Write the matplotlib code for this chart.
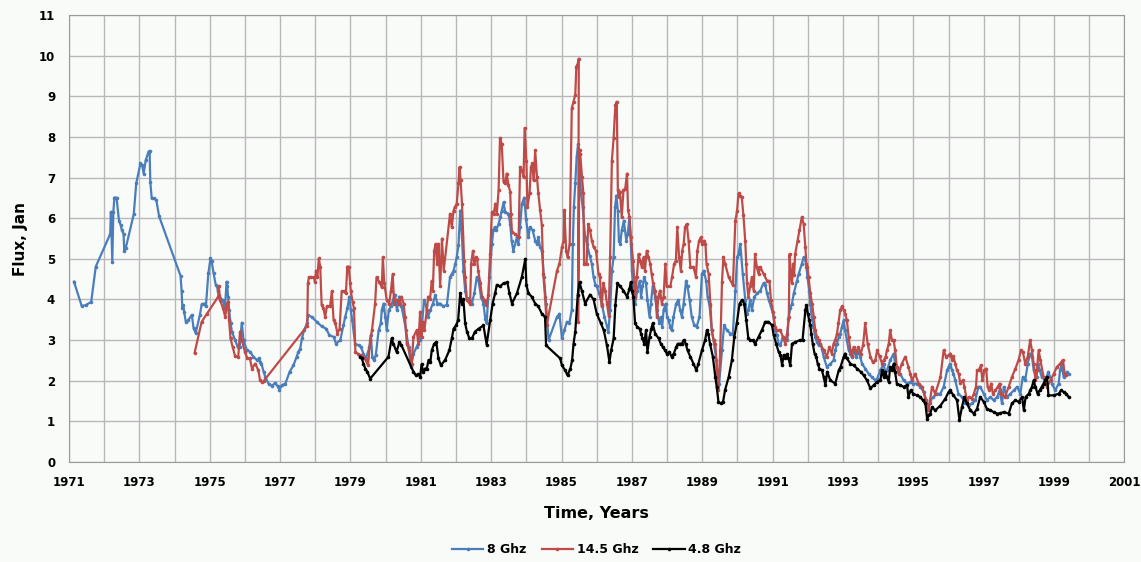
import matplotlib.pyplot as plt
import numpy as np

# (year, flux) pairs
ghz8 = [
    (1971.14, 4.44), (1971.36, 3.84), (1971.47, 3.86), (1971.63, 3.94), (1971.76, 4.81),
    (1972.17, 5.61), (1972.19, 6.16), (1972.23, 4.93), (1972.26, 6.16), (1972.29, 6.51),
    (1972.35, 6.51), (1972.42, 5.94), (1972.47, 5.83), (1972.50, 5.71), (1972.55, 5.61),
    (1972.57, 5.20), (1972.61, 5.26), (1972.84, 6.10), (1972.91, 6.86), (1973.03, 7.35),
    (1973.08, 7.31), (1973.12, 7.10), (1973.18, 7.43), (1973.26, 7.64), (1973.29, 7.66),
    (1973.31, 6.90), (1973.35, 6.49), (1973.41, 6.49), (1973.48, 6.45), (1973.56, 6.05),
    (1974.17, 4.58), (1974.20, 4.21), (1974.22, 3.80), (1974.25, 3.86), (1974.27, 3.70),
    (1974.32, 3.45), (1974.39, 3.49), (1974.49, 3.62), (1974.54, 3.29), (1974.60, 3.17),
    (1974.72, 3.62), (1974.77, 3.88), (1974.85, 3.90), (1974.89, 3.83), (1974.96, 4.64),
    (1975.02, 5.01), (1975.05, 4.96), (1975.11, 4.64), (1975.17, 4.36), (1975.21, 4.32),
    (1975.23, 4.20), (1975.27, 4.12), (1975.34, 3.99), (1975.37, 3.99), (1975.43, 3.78),
    (1975.48, 4.44), (1975.50, 4.32), (1975.52, 4.07), (1975.55, 3.75), (1975.59, 3.42),
    (1975.63, 3.21), (1975.72, 3.00), (1975.79, 2.84), (1975.85, 2.84), (1975.91, 3.43),
    (1975.96, 3.00), (1976.05, 2.76), (1976.15, 2.71), (1976.24, 2.59), (1976.34, 2.51),
    (1976.41, 2.55), (1976.44, 2.46), (1976.47, 2.42), (1976.53, 2.22), (1976.58, 2.09),
    (1976.67, 1.93), (1976.77, 1.87), (1976.86, 1.95), (1976.93, 1.86), (1976.98, 1.78),
    (1977.05, 1.89), (1977.15, 1.93), (1977.27, 2.22), (1977.38, 2.38), (1977.47, 2.59),
    (1977.52, 2.71), (1977.57, 2.79), (1977.62, 3.04), (1977.68, 3.24), (1977.76, 3.41),
    (1977.80, 3.61), (1977.90, 3.57), (1978.04, 3.45), (1978.18, 3.34), (1978.31, 3.28),
    (1978.40, 3.12), (1978.52, 3.08), (1978.59, 2.91), (1978.71, 3.00), (1978.80, 3.36),
    (1978.85, 3.57), (1978.91, 3.78), (1978.97, 4.07), (1979.01, 3.74), (1979.05, 3.49),
    (1979.13, 2.91), (1979.23, 2.87), (1979.30, 2.83), (1979.37, 2.66), (1979.44, 2.55),
    (1979.54, 2.83), (1979.58, 3.12), (1979.62, 2.59), (1979.67, 2.50), (1979.72, 2.63),
    (1979.80, 3.24), (1979.86, 3.41), (1979.89, 3.74), (1979.94, 3.90), (1979.99, 3.57),
    (1980.03, 3.24), (1980.09, 3.74), (1980.15, 3.83), (1980.21, 3.99), (1980.26, 4.12),
    (1980.32, 3.74), (1980.39, 4.07), (1980.45, 3.83), (1980.51, 3.57), (1980.58, 3.24),
    (1980.65, 2.83), (1980.72, 2.34), (1980.79, 2.66), (1980.88, 2.83), (1980.98, 3.00),
    (1981.02, 3.24), (1981.09, 3.99), (1981.14, 3.87), (1981.20, 3.57), (1981.27, 3.74),
    (1981.34, 3.90), (1981.41, 4.10), (1981.47, 3.90), (1981.55, 3.90), (1981.64, 3.83),
    (1981.74, 3.87), (1981.83, 4.55), (1981.88, 4.63), (1981.93, 4.71), (1981.98, 4.88),
    (1982.02, 5.04), (1982.07, 5.33), (1982.12, 6.19), (1982.17, 5.53), (1982.21, 4.71),
    (1982.26, 4.22), (1982.31, 3.99), (1982.38, 4.03), (1982.45, 3.90), (1982.52, 4.15),
    (1982.59, 4.55), (1982.64, 4.46), (1982.71, 4.07), (1982.78, 3.90), (1982.83, 3.53),
    (1982.87, 3.41), (1982.95, 4.55), (1983.02, 5.37), (1983.06, 5.70), (1983.10, 5.78),
    (1983.14, 5.70), (1983.21, 5.86), (1983.26, 6.03), (1983.30, 6.19), (1983.35, 6.39),
    (1983.40, 6.15), (1983.49, 6.11), (1983.54, 5.86), (1983.58, 5.45), (1983.63, 5.20),
    (1983.73, 5.53), (1983.77, 5.37), (1983.82, 5.78), (1983.87, 6.35), (1983.94, 6.51),
    (1983.99, 5.98), (1984.06, 5.53), (1984.10, 5.78), (1984.18, 5.70), (1984.25, 5.45),
    (1984.30, 5.37), (1984.34, 5.53), (1984.39, 5.29), (1984.44, 5.20), (1984.50, 4.55),
    (1984.56, 3.90), (1984.63, 3.00), (1984.87, 3.57), (1984.94, 3.65), (1985.01, 3.04),
    (1985.08, 3.24), (1985.15, 3.45), (1985.22, 3.41), (1985.29, 3.74), (1985.32, 5.37),
    (1985.35, 6.28), (1985.39, 6.86), (1985.43, 7.51), (1985.47, 7.83), (1985.51, 7.59),
    (1985.55, 6.61), (1985.60, 6.28), (1985.67, 5.53), (1985.72, 5.37), (1985.80, 5.08),
    (1985.86, 4.88), (1985.91, 4.55), (1985.96, 4.36), (1986.00, 4.32), (1986.07, 4.15),
    (1986.14, 3.90), (1986.22, 3.57), (1986.33, 3.21), (1986.38, 3.74), (1986.43, 4.71),
    (1986.48, 5.04), (1986.52, 6.28), (1986.56, 6.56), (1986.60, 6.19), (1986.63, 5.45),
    (1986.67, 5.37), (1986.71, 5.70), (1986.77, 5.94), (1986.84, 5.45), (1986.88, 5.61),
    (1986.93, 6.03), (1986.97, 5.37), (1987.00, 4.71), (1987.05, 4.07), (1987.09, 3.90),
    (1987.15, 4.22), (1987.22, 4.46), (1987.26, 4.07), (1987.30, 4.32), (1987.35, 4.55),
    (1987.40, 4.40), (1987.44, 3.99), (1987.50, 3.57), (1987.54, 3.90), (1987.59, 4.32),
    (1987.66, 4.07), (1987.71, 3.74), (1987.78, 3.41), (1987.82, 3.57), (1987.86, 3.33),
    (1987.90, 3.74), (1987.96, 3.90), (1988.00, 3.57), (1988.04, 3.49), (1988.09, 3.33),
    (1988.13, 3.24), (1988.18, 3.57), (1988.26, 3.90), (1988.32, 3.99), (1988.37, 3.74),
    (1988.42, 3.57), (1988.47, 3.90), (1988.54, 4.46), (1988.58, 4.32), (1988.64, 3.99),
    (1988.70, 3.57), (1988.77, 3.37), (1988.84, 3.33), (1988.92, 3.57), (1988.99, 4.63),
    (1989.04, 4.71), (1989.11, 4.46), (1989.15, 4.07), (1989.21, 3.83), (1989.27, 3.24),
    (1989.32, 3.00), (1989.40, 2.50), (1989.43, 1.85), (1989.48, 1.93), (1989.56, 2.75),
    (1989.62, 3.37), (1989.70, 3.24), (1989.80, 3.16), (1989.87, 3.16), (1989.94, 4.22),
    (1989.99, 5.04), (1990.03, 5.12), (1990.08, 5.37), (1990.15, 4.63), (1990.22, 3.99),
    (1990.26, 3.65), (1990.31, 3.74), (1990.36, 3.99), (1990.41, 3.74), (1990.48, 4.07),
    (1990.56, 4.15), (1990.65, 4.22), (1990.74, 4.40), (1990.79, 4.36), (1990.84, 4.15),
    (1990.89, 3.99), (1990.95, 3.83), (1991.03, 3.57), (1991.08, 3.24), (1991.12, 3.12),
    (1991.17, 2.91), (1991.22, 2.87), (1991.29, 3.08), (1991.36, 3.04), (1991.42, 3.00),
    (1991.45, 3.53), (1991.50, 3.78), (1991.55, 3.90), (1991.60, 4.15), (1991.69, 4.46),
    (1991.74, 4.63), (1991.83, 4.88), (1991.88, 5.04), (1991.92, 5.00), (1991.96, 4.80),
    (1991.99, 4.55), (1992.04, 4.22), (1992.07, 3.90), (1992.11, 3.57), (1992.16, 3.33),
    (1992.21, 3.08), (1992.26, 2.95), (1992.31, 2.87), (1992.36, 2.91), (1992.40, 2.79),
    (1992.45, 2.59), (1992.54, 2.34), (1992.64, 2.42), (1992.73, 2.50), (1992.78, 2.75),
    (1992.83, 2.91), (1992.88, 3.08), (1992.92, 3.16), (1992.97, 3.33), (1993.02, 3.49),
    (1993.06, 3.24), (1993.11, 3.00), (1993.16, 2.75), (1993.21, 2.67), (1993.25, 2.59),
    (1993.30, 2.75), (1993.37, 2.59), (1993.44, 2.71), (1993.49, 2.59), (1993.54, 2.42),
    (1993.63, 2.30), (1993.73, 2.17), (1993.82, 2.09), (1993.92, 2.01), (1993.97, 2.05),
    (1994.06, 2.26), (1994.16, 2.42), (1994.20, 2.17), (1994.25, 2.26), (1994.34, 2.50),
    (1994.44, 2.67), (1994.48, 2.42), (1994.53, 2.34), (1994.63, 2.17), (1994.72, 2.01),
    (1994.82, 1.93), (1994.91, 1.97), (1995.00, 1.93), (1995.10, 1.93), (1995.20, 1.85),
    (1995.29, 1.73), (1995.37, 1.52), (1995.43, 1.27), (1995.48, 1.52), (1995.57, 1.60),
    (1995.67, 1.68), (1995.77, 1.68), (1995.86, 1.85), (1995.96, 2.26), (1996.00, 2.34),
    (1996.05, 2.42), (1996.10, 2.26), (1996.14, 2.17), (1996.19, 2.01), (1996.28, 1.68),
    (1996.38, 1.60), (1996.43, 1.52), (1996.48, 1.44), (1996.57, 1.40), (1996.67, 1.44),
    (1996.76, 1.52), (1996.85, 1.85), (1996.90, 1.85), (1997.00, 1.68), (1997.09, 1.52),
    (1997.19, 1.60), (1997.28, 1.52), (1997.38, 1.60), (1997.45, 1.76), (1997.52, 1.44),
    (1997.57, 1.85), (1997.66, 1.60), (1997.76, 1.68), (1997.85, 1.76), (1997.95, 1.85),
    (1998.04, 1.68), (1998.11, 2.09), (1998.18, 2.01), (1998.25, 2.42), (1998.32, 2.67),
    (1998.37, 2.59), (1998.42, 2.26), (1998.50, 2.09), (1998.54, 2.42), (1998.59, 2.26),
    (1998.65, 2.09), (1998.75, 2.01), (1998.84, 2.22), (1998.94, 1.93), (1999.03, 1.76),
    (1999.13, 1.93), (1999.17, 2.26), (1999.22, 2.42), (1999.27, 2.09), (1999.32, 2.17),
    (1999.37, 2.22), (1999.41, 2.17),
]

ghz14 = [
    (1974.57, 2.69), (1974.77, 3.45), (1974.92, 3.65), (1975.24, 4.07), (1975.26, 4.32),
    (1975.29, 3.99), (1975.38, 3.78), (1975.44, 3.57), (1975.49, 3.90), (1975.52, 3.94),
    (1975.55, 3.49), (1975.59, 3.04), (1975.65, 2.84), (1975.72, 2.60), (1975.81, 2.59),
    (1975.86, 3.21), (1975.91, 3.00), (1976.00, 2.71), (1976.07, 2.55), (1976.14, 2.55),
    (1976.20, 2.30), (1976.29, 2.42), (1976.38, 2.26), (1976.43, 2.01), (1976.48, 1.97),
    (1976.53, 1.99), (1977.77, 3.35), (1977.79, 4.40), (1977.82, 4.55), (1977.88, 4.55),
    (1977.96, 4.55), (1977.99, 4.43), (1978.02, 4.71), (1978.06, 4.55), (1978.10, 5.01),
    (1978.14, 4.81), (1978.18, 3.87), (1978.23, 3.78), (1978.28, 3.57), (1978.33, 3.83),
    (1978.42, 3.83), (1978.47, 4.20), (1978.52, 3.49), (1978.57, 3.41), (1978.63, 3.16),
    (1978.69, 3.28), (1978.75, 4.20), (1978.82, 4.20), (1978.87, 4.15), (1978.91, 4.81),
    (1978.95, 4.81), (1978.99, 4.40), (1979.01, 4.20), (1979.06, 3.94), (1979.10, 3.78),
    (1979.14, 2.71), (1979.22, 2.66), (1979.29, 2.63), (1979.37, 2.59), (1979.44, 2.50),
    (1979.50, 2.38), (1979.56, 3.00), (1979.61, 3.24), (1979.70, 3.90), (1979.74, 4.55),
    (1979.82, 4.43), (1979.89, 4.30), (1979.92, 5.04), (1979.96, 4.40), (1980.03, 3.99),
    (1980.10, 3.90), (1980.15, 4.22), (1980.20, 4.63), (1980.24, 3.90), (1980.31, 3.99),
    (1980.39, 3.90), (1980.45, 4.07), (1980.51, 3.90), (1980.55, 3.57), (1980.60, 2.91),
    (1980.67, 2.75), (1980.74, 2.42), (1980.79, 3.08), (1980.88, 3.24), (1980.93, 2.91),
    (1980.98, 3.70), (1981.02, 3.08), (1981.05, 3.45), (1981.10, 3.24), (1981.17, 3.74),
    (1981.21, 4.07), (1981.26, 4.00), (1981.31, 4.46), (1981.34, 4.22), (1981.38, 5.20),
    (1981.42, 5.37), (1981.45, 5.04), (1981.47, 4.88), (1981.50, 5.37), (1981.55, 4.32),
    (1981.60, 5.50), (1981.65, 4.71), (1981.83, 6.11), (1981.88, 5.78), (1981.93, 6.19),
    (1981.97, 6.28), (1982.02, 6.36), (1982.07, 6.86), (1982.10, 7.26), (1982.13, 6.93),
    (1982.17, 6.36), (1982.23, 4.96), (1982.26, 4.55), (1982.31, 3.99), (1982.36, 3.94),
    (1982.40, 3.90), (1982.43, 4.88), (1982.48, 5.20), (1982.52, 4.88), (1982.57, 5.04),
    (1982.60, 5.00), (1982.63, 4.71), (1982.69, 4.40), (1982.74, 4.07), (1982.80, 3.99),
    (1982.86, 3.87), (1982.92, 4.12), (1982.97, 5.12), (1983.02, 6.15), (1983.07, 6.11),
    (1983.12, 6.36), (1983.16, 6.11), (1983.21, 6.69), (1983.25, 7.98), (1983.30, 7.82),
    (1983.35, 6.90), (1983.40, 6.86), (1983.44, 7.10), (1983.49, 6.82), (1983.54, 6.65),
    (1983.56, 6.11), (1983.59, 5.66), (1983.68, 5.61), (1983.78, 5.53), (1983.82, 7.26),
    (1983.87, 7.18), (1983.92, 7.02), (1983.95, 8.22), (1984.00, 7.42), (1984.03, 6.28),
    (1984.09, 6.61), (1984.13, 7.26), (1984.17, 7.35), (1984.21, 6.93), (1984.25, 7.67),
    (1984.30, 7.02), (1984.34, 6.61), (1984.39, 6.20), (1984.44, 5.83), (1984.48, 4.63),
    (1984.53, 4.07), (1984.58, 3.37), (1984.87, 4.71), (1984.94, 4.88), (1985.01, 5.29),
    (1985.06, 5.45), (1985.08, 6.20), (1985.13, 5.20), (1985.17, 5.04), (1985.23, 5.37),
    (1985.29, 8.71), (1985.34, 8.87), (1985.39, 9.04), (1985.42, 9.73), (1985.45, 9.77),
    (1985.49, 9.93), (1985.47, 3.45), (1985.51, 7.67), (1985.53, 7.59), (1985.58, 7.02),
    (1985.62, 6.61), (1985.64, 4.88), (1985.71, 4.88), (1985.76, 5.86), (1985.81, 5.70),
    (1985.86, 5.45), (1985.91, 5.29), (1985.98, 5.20), (1986.05, 4.63), (1986.09, 4.55),
    (1986.14, 3.83), (1986.19, 4.40), (1986.24, 4.22), (1986.29, 3.90), (1986.34, 3.60),
    (1986.38, 5.04), (1986.43, 7.42), (1986.48, 7.98), (1986.53, 8.79), (1986.57, 8.87),
    (1986.60, 6.69), (1986.62, 6.53), (1986.66, 6.65), (1986.71, 6.03), (1986.76, 6.69),
    (1986.81, 6.73), (1986.86, 7.10), (1986.89, 6.20), (1986.93, 6.03), (1986.97, 5.53),
    (1987.03, 4.96), (1987.06, 4.55), (1987.09, 4.07), (1987.14, 4.55), (1987.19, 5.12),
    (1987.23, 4.96), (1987.28, 4.80), (1987.33, 5.04), (1987.37, 4.71), (1987.42, 5.20),
    (1987.47, 5.04), (1987.52, 4.88), (1987.56, 4.63), (1987.60, 4.40), (1987.66, 4.22),
    (1987.71, 3.57), (1987.75, 4.07), (1987.80, 4.22), (1987.85, 3.90), (1987.90, 4.07),
    (1987.95, 4.88), (1987.99, 4.32), (1988.09, 4.32), (1988.14, 4.55), (1988.20, 4.88),
    (1988.25, 4.96), (1988.29, 5.78), (1988.34, 5.04), (1988.39, 4.71), (1988.43, 5.20),
    (1988.47, 5.37), (1988.51, 5.78), (1988.56, 5.86), (1988.61, 5.45), (1988.66, 4.80),
    (1988.75, 4.80), (1988.82, 4.55), (1988.86, 5.20), (1988.91, 5.45), (1988.96, 5.53),
    (1989.00, 5.37), (1989.05, 5.45), (1989.09, 5.37), (1989.12, 4.88), (1989.18, 4.63),
    (1989.23, 3.90), (1989.27, 3.24), (1989.32, 3.00), (1989.37, 2.91), (1989.42, 2.26),
    (1989.46, 1.78), (1989.51, 2.75), (1989.56, 4.43), (1989.60, 5.04), (1989.65, 4.88),
    (1989.75, 4.55), (1989.87, 4.35), (1989.94, 5.94), (1989.99, 6.19), (1990.03, 6.61),
    (1990.08, 6.56), (1990.12, 6.53), (1990.17, 6.07), (1990.22, 5.45), (1990.25, 4.88),
    (1990.27, 4.40), (1990.31, 4.07), (1990.36, 4.32), (1990.41, 4.55), (1990.46, 4.22),
    (1990.50, 5.12), (1990.55, 4.80), (1990.60, 4.63), (1990.65, 4.80), (1990.74, 4.63),
    (1990.84, 4.46), (1990.91, 4.46), (1990.95, 3.99), (1991.01, 3.70), (1991.06, 3.33),
    (1991.11, 3.24), (1991.17, 3.24), (1991.22, 3.24), (1991.29, 3.08), (1991.36, 2.91),
    (1991.41, 3.16), (1991.46, 3.57), (1991.48, 5.12), (1991.52, 4.55), (1991.55, 4.40),
    (1991.58, 4.88), (1991.61, 4.60), (1991.64, 5.12), (1991.71, 5.45), (1991.76, 5.70),
    (1991.83, 6.03), (1991.88, 5.86), (1991.93, 5.29), (1991.96, 4.88), (1991.99, 4.80),
    (1992.02, 4.55), (1992.07, 4.15), (1992.12, 3.90), (1992.17, 3.57), (1992.21, 3.24),
    (1992.26, 3.08), (1992.31, 3.00), (1992.35, 2.91), (1992.45, 2.75), (1992.54, 2.59),
    (1992.61, 2.83), (1992.68, 2.67), (1992.73, 2.91), (1992.78, 3.00), (1992.83, 3.16),
    (1992.87, 3.41), (1992.92, 3.74), (1992.97, 3.83), (1993.02, 3.74), (1993.06, 3.65),
    (1993.11, 3.49), (1993.16, 3.08), (1993.21, 2.75), (1993.25, 2.60), (1993.30, 2.83),
    (1993.37, 2.70), (1993.44, 2.83), (1993.50, 2.66), (1993.57, 2.87), (1993.63, 3.41),
    (1993.70, 2.91), (1993.78, 2.59), (1993.85, 2.45), (1993.92, 2.51), (1993.97, 2.75),
    (1994.04, 2.60), (1994.11, 2.42), (1994.16, 2.51), (1994.21, 2.59), (1994.25, 2.75),
    (1994.30, 2.91), (1994.34, 3.24), (1994.39, 3.00), (1994.44, 3.00), (1994.48, 2.75),
    (1994.53, 2.34), (1994.58, 2.17), (1994.67, 2.42), (1994.77, 2.59), (1994.86, 2.34),
    (1994.91, 2.17), (1994.96, 2.01), (1995.05, 2.17), (1995.15, 1.93), (1995.25, 1.85),
    (1995.34, 1.56), (1995.41, 1.27), (1995.46, 1.44), (1995.53, 1.85), (1995.62, 1.68),
    (1995.77, 2.09), (1995.86, 2.75), (1995.93, 2.59), (1996.00, 2.63), (1996.05, 2.67),
    (1996.10, 2.50), (1996.14, 2.60), (1996.19, 2.42), (1996.24, 2.26), (1996.29, 2.17),
    (1996.33, 1.95), (1996.41, 2.01), (1996.45, 1.85), (1996.52, 1.52), (1996.58, 1.60),
    (1996.66, 1.56), (1996.72, 1.68), (1996.78, 1.85), (1996.81, 2.26), (1996.86, 2.26),
    (1996.92, 2.38), (1996.96, 2.01), (1997.02, 2.26), (1997.07, 2.30), (1997.11, 1.85),
    (1997.16, 1.76), (1997.21, 1.93), (1997.26, 1.68), (1997.33, 1.76), (1997.40, 1.85),
    (1997.45, 1.93), (1997.50, 1.68), (1997.60, 1.60), (1997.71, 1.85), (1997.80, 2.09),
    (1997.90, 2.30), (1997.99, 2.51), (1998.06, 2.75), (1998.11, 2.71), (1998.18, 2.42),
    (1998.25, 2.59), (1998.32, 3.00), (1998.37, 2.75), (1998.42, 2.42), (1998.47, 2.01),
    (1998.51, 2.26), (1998.56, 2.75), (1998.61, 2.51), (1998.70, 2.09), (1998.80, 1.85),
    (1998.90, 2.01), (1998.99, 2.17), (1999.08, 2.34), (1999.17, 2.42), (1999.25, 2.51),
    (1999.30, 2.17), (1999.35, 2.13),
]

ghz48 = [
    (1979.27, 2.59), (1979.32, 2.55), (1979.37, 2.42), (1979.42, 2.30), (1979.48, 2.22),
    (1979.56, 2.05), (1980.08, 2.59), (1980.17, 3.04), (1980.22, 2.91), (1980.31, 2.71),
    (1980.39, 2.95), (1980.45, 2.87), (1980.79, 2.22), (1980.86, 2.13), (1980.93, 2.17),
    (1980.98, 2.09), (1981.02, 2.40), (1981.07, 2.22), (1981.12, 2.30), (1981.17, 2.30),
    (1981.22, 2.51), (1981.27, 2.45), (1981.31, 2.75), (1981.38, 2.91), (1981.44, 2.95),
    (1981.50, 2.55), (1981.57, 2.38), (1981.69, 2.51), (1981.81, 2.75), (1981.88, 3.04),
    (1981.93, 3.28), (1982.00, 3.36), (1982.06, 3.49), (1982.12, 4.15), (1982.17, 3.90),
    (1982.21, 4.00), (1982.26, 3.41), (1982.31, 3.21), (1982.38, 3.04), (1982.45, 3.04),
    (1982.54, 3.21), (1982.64, 3.28), (1982.78, 3.36), (1982.87, 2.89), (1982.97, 3.49),
    (1983.04, 3.90), (1983.11, 4.15), (1983.16, 4.36), (1983.25, 4.32), (1983.35, 4.40),
    (1983.46, 4.42), (1983.52, 4.15), (1983.59, 3.90), (1983.73, 4.15), (1983.87, 4.55),
    (1983.97, 5.00), (1984.00, 4.36), (1984.06, 4.15), (1984.15, 4.07), (1984.25, 3.90),
    (1984.34, 3.83), (1984.44, 3.65), (1984.53, 3.57), (1984.56, 2.87), (1984.96, 2.55),
    (1985.01, 2.38), (1985.10, 2.26), (1985.17, 2.13), (1985.25, 2.30), (1985.30, 2.50),
    (1985.34, 2.91), (1985.39, 3.21), (1985.46, 4.12), (1985.51, 4.43), (1985.58, 4.20),
    (1985.67, 3.90), (1985.81, 4.12), (1985.91, 4.00), (1986.00, 3.65), (1986.12, 3.41),
    (1986.20, 3.24), (1986.29, 2.87), (1986.36, 2.46), (1986.41, 2.75), (1986.48, 3.04),
    (1986.53, 3.87), (1986.59, 4.40), (1986.67, 4.32), (1986.76, 4.22), (1986.86, 4.07),
    (1986.93, 4.26), (1986.97, 4.43), (1987.00, 4.20), (1987.04, 4.07), (1987.09, 3.41),
    (1987.15, 3.33), (1987.22, 3.28), (1987.26, 3.16), (1987.30, 3.04), (1987.35, 2.91),
    (1987.40, 3.24), (1987.44, 2.71), (1987.50, 3.08), (1987.55, 3.28), (1987.59, 3.41),
    (1987.66, 3.16), (1987.76, 3.04), (1987.82, 2.91), (1987.88, 2.83), (1987.94, 2.75),
    (1987.99, 2.67), (1988.06, 2.71), (1988.13, 2.59), (1988.19, 2.67), (1988.26, 2.83),
    (1988.30, 2.91), (1988.37, 2.91), (1988.42, 2.91), (1988.47, 3.00), (1988.53, 2.91),
    (1988.58, 2.75), (1988.66, 2.59), (1988.75, 2.42), (1988.83, 2.26), (1988.89, 2.42),
    (1988.99, 2.75), (1989.08, 3.00), (1989.13, 3.24), (1989.17, 3.16), (1989.22, 2.91),
    (1989.30, 2.59), (1989.37, 2.09), (1989.41, 1.85), (1989.46, 1.48), (1989.53, 1.44),
    (1989.59, 1.48), (1989.65, 1.78), (1989.75, 2.09), (1989.84, 2.50), (1989.91, 3.08),
    (1989.98, 3.41), (1990.06, 3.90), (1990.13, 3.99), (1990.19, 3.90), (1990.25, 3.49),
    (1990.31, 3.04), (1990.36, 3.00), (1990.43, 3.00), (1990.50, 2.91), (1990.60, 3.08),
    (1990.69, 3.24), (1990.79, 3.45), (1990.88, 3.45), (1990.98, 3.37), (1991.03, 3.12),
    (1991.10, 2.91), (1991.17, 2.71), (1991.22, 2.63), (1991.27, 2.38), (1991.31, 2.63),
    (1991.36, 2.55), (1991.41, 2.65), (1991.45, 2.55), (1991.50, 2.38), (1991.55, 2.91),
    (1991.64, 2.95), (1991.78, 3.00), (1991.85, 3.00), (1991.93, 3.74), (1991.96, 3.86),
    (1992.00, 3.65), (1992.04, 3.49), (1992.07, 3.37), (1992.10, 3.16), (1992.14, 2.91),
    (1992.19, 2.67), (1992.24, 2.59), (1992.28, 2.42), (1992.33, 2.30), (1992.40, 2.26),
    (1992.45, 2.09), (1992.50, 1.89), (1992.55, 2.22), (1992.64, 2.01), (1992.78, 1.93),
    (1992.88, 2.26), (1992.93, 2.34), (1993.02, 2.59), (1993.06, 2.67), (1993.11, 2.55),
    (1993.21, 2.42), (1993.30, 2.38), (1993.40, 2.30), (1993.50, 2.22), (1993.59, 2.13),
    (1993.68, 2.01), (1993.78, 1.81), (1993.87, 1.89), (1993.97, 1.97), (1994.06, 2.01),
    (1994.11, 2.26), (1994.16, 2.09), (1994.20, 2.22), (1994.25, 2.09), (1994.30, 1.97),
    (1994.34, 2.34), (1994.39, 2.26), (1994.44, 2.42), (1994.48, 2.22), (1994.53, 1.93),
    (1994.63, 1.89), (1994.72, 1.85), (1994.82, 1.89), (1994.86, 1.60), (1994.92, 1.76),
    (1995.00, 1.68), (1995.10, 1.64), (1995.20, 1.60), (1995.27, 1.52), (1995.34, 1.44),
    (1995.39, 1.07), (1995.43, 1.15), (1995.48, 1.19), (1995.53, 1.35), (1995.62, 1.27),
    (1995.77, 1.39), (1995.91, 1.56), (1996.00, 1.72), (1996.05, 1.76), (1996.14, 1.64),
    (1996.24, 1.52), (1996.31, 1.03), (1996.38, 1.35), (1996.45, 1.60), (1996.52, 1.44),
    (1996.62, 1.27), (1996.72, 1.19), (1996.81, 1.31), (1996.90, 1.60), (1997.00, 1.48),
    (1997.09, 1.31), (1997.19, 1.27), (1997.28, 1.23), (1997.38, 1.19), (1997.47, 1.20),
    (1997.57, 1.23), (1997.71, 1.19), (1997.80, 1.44), (1997.90, 1.52), (1997.99, 1.48),
    (1998.09, 1.60), (1998.14, 1.27), (1998.19, 1.60), (1998.28, 1.68), (1998.32, 1.76),
    (1998.37, 1.85), (1998.42, 2.01), (1998.47, 1.85), (1998.53, 1.68), (1998.59, 1.76),
    (1998.65, 1.85), (1998.70, 1.93), (1998.75, 2.01), (1998.80, 2.09), (1998.84, 1.64),
    (1998.99, 1.64), (1999.13, 1.68), (1999.20, 1.76), (1999.28, 1.72), (1999.35, 1.68),
    (1999.41, 1.60),
]

series = [("8 Ghz", ghz8, "#4a7ebb"),
          ("14.5 Ghz", ghz14, "#be4b48"),
          ("4.8 Ghz", ghz48, "#000000")]

year_ticks = list(range(1971, 2002, 2))
flux_ticks = list(range(0, 12))

bg = "#f9fbf9"
fig = plt.figure(figsize=(11.41, 5.62), dpi=100, facecolor=bg)
ax = fig.add_axes([0.0605, 0.178, 0.925, 0.795], facecolor=bg)

for label, pts, color in series:
    t, f = zip(*pts)
    ax.plot(t, f, color=color, linewidth=1.6, marker="o", markersize=2.6,
            markeredgewidth=0, label=label)

ax.set_xlim(1971, 2001)
ax.set_ylim(0, 11)
ax.set_xticks(year_ticks)
ax.set_xticks(range(1971, 2002), minor=True)
ax.set_yticks(flux_ticks)
ax.grid(True, which="both", color="#b8b8b8", linewidth=1.0)
ax.set_axisbelow(True)
for s in ax.spines.values():
    s.set_color("#9a9a9a")
ax.tick_params(which="both", length=0, labelsize=8.5, pad=10)
for lbl in ax.get_xticklabels() + ax.get_yticklabels():
    lbl.set_fontweight("bold")

ax.set_xlabel("Time, Years", fontsize=11.5, fontweight="bold", labelpad=12)
ax.set_ylabel("Flux, Jan", fontsize=11, fontweight="bold", labelpad=8)

ax.legend(loc="center", bbox_to_anchor=(0.5, -0.197), ncol=3, frameon=False,
          prop={"weight": "bold", "size": 9}, handlelength=2.5,
          columnspacing=1.2, handletextpad=0.3)

fig.savefig("out.png", dpi=100, facecolor=bg)
